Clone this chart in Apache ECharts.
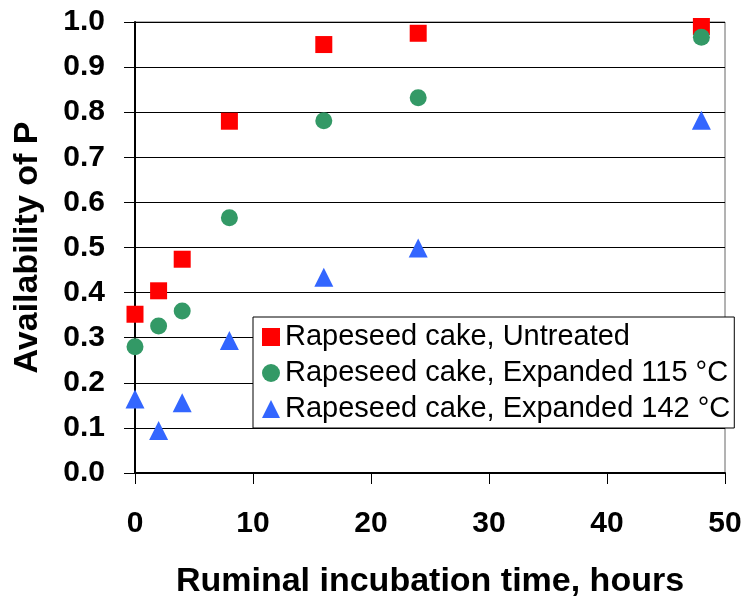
<!DOCTYPE html>
<html>
<head>
<meta charset="utf-8">
<script src="https://cdn.jsdelivr.net/npm/echarts@6/dist/echarts.min.js"></script>
<style>
  html, body { margin: 0; padding: 0; background: #fff; }
  #main { width: 746px; height: 601px; }
</style>
</head>
<body>
<div id="main"></div>
<script>
// incubation hours
const hours = [0, 2, 4, 8, 16, 24, 48]
const untreated = [0.352, 0.404, 0.474, 0.780, 0.950, 0.975, 0.990]
const expanded115 = [0.280, 0.326, 0.359, 0.566, 0.781, 0.832, 0.966]
const expanded142 = [0.164, 0.094, 0.156, 0.294, 0.434, 0.499, 0.782]
const seriesNames = [
  'Rapeseed cake, Untreated',
  'Rapeseed cake, Expanded 115 °C',
  'Rapeseed cake, Expanded 142 °C',
]

const font = 'Liberation Sans, Arial, sans-serif'

function pairs(ys) {
  return hours.map((h, i) => [h, ys[i]])
}

const chart = echarts.init(document.getElementById('main'))
const option = {
  animation: false,
  backgroundColor: '#fff',
  grid: {
    left: 135,
    top: 22,
    right: 21,
    bottom: 128,
    outerBoundsMode: 'none',
    containLabel: false,
    show: true,
    borderColor: '#666',
    borderWidth: 1,
  },
  legend: {
    orient: 'vertical',
    left: 253,
    top: 317,
    backgroundColor: '#fff',
    borderColor: '#000',
    borderWidth: 1,
    borderRadius: 0,
    padding: [5, 4, 4, 9],
    itemGap: 6,
    itemWidth: 18,
    itemHeight: 18,
    textStyle: {
      fontFamily: font,
      fontSize: 29,
      color: '#000',
      lineHeight: 30,
    },
    data: [
      { name: seriesNames[0], icon: 'rect' },
      { name: seriesNames[1], icon: 'circle' },
      { name: seriesNames[2], icon: 'triangle' },
    ],
  },
  xAxis: {
    type: 'value',
    min: 0,
    max: 50,
    interval: 10,
    name: 'Ruminal incubation time, hours',
    nameLocation: 'middle',
    nameGap: 92,
    nameTextStyle: { fontFamily: font, fontSize: 34, fontWeight: 'bold', color: '#000' },
    axisLine: { show: true, lineStyle: { color: '#000', width: 2 } },
    axisTick: { show: true, inside: false, length: 11, lineStyle: { color: '#000' } },
    axisLabel: { fontFamily: font, fontSize: 30, fontWeight: 'bold', color: '#000', margin: 36 },
    splitLine: { show: false },
  },
  yAxis: {
    type: 'value',
    min: 0,
    max: 1,
    interval: 0.1,
    name: 'Availability of P',
    nameLocation: 'middle',
    nameGap: 90,
    nameTextStyle: { fontFamily: font, fontSize: 34, fontWeight: 'bold', color: '#000' },
    axisLine: { show: true, lineStyle: { color: '#000', width: 2 } },
    axisTick: { show: true, inside: false, length: 11, lineStyle: { color: '#000' } },
    axisLabel: {
      fontFamily: font,
      fontSize: 30,
      fontWeight: 'bold',
      color: '#000',
      margin: 30,
      formatter: (v) => v.toFixed(1),
    },
    splitLine: { show: true, lineStyle: { color: '#000', width: 1 } },
  },
  series: [
    {
      name: seriesNames[0],
      type: 'scatter',
      symbol: 'rect',
      symbolSize: 17,
      itemStyle: { color: '#ff0000', opacity: 1 },
      data: pairs(untreated),
    },
    {
      name: seriesNames[1],
      type: 'scatter',
      symbol: 'circle',
      symbolSize: 17,
      itemStyle: { color: '#339966', opacity: 1 },
      data: pairs(expanded115),
    },
    {
      name: seriesNames[2],
      type: 'scatter',
      symbol: 'triangle',
      symbolSize: 19,
      itemStyle: { color: '#3366ff', opacity: 1 },
      data: pairs(expanded142),
    },
  ],
}
chart.setOption(option)
</script>
</body>
</html>
